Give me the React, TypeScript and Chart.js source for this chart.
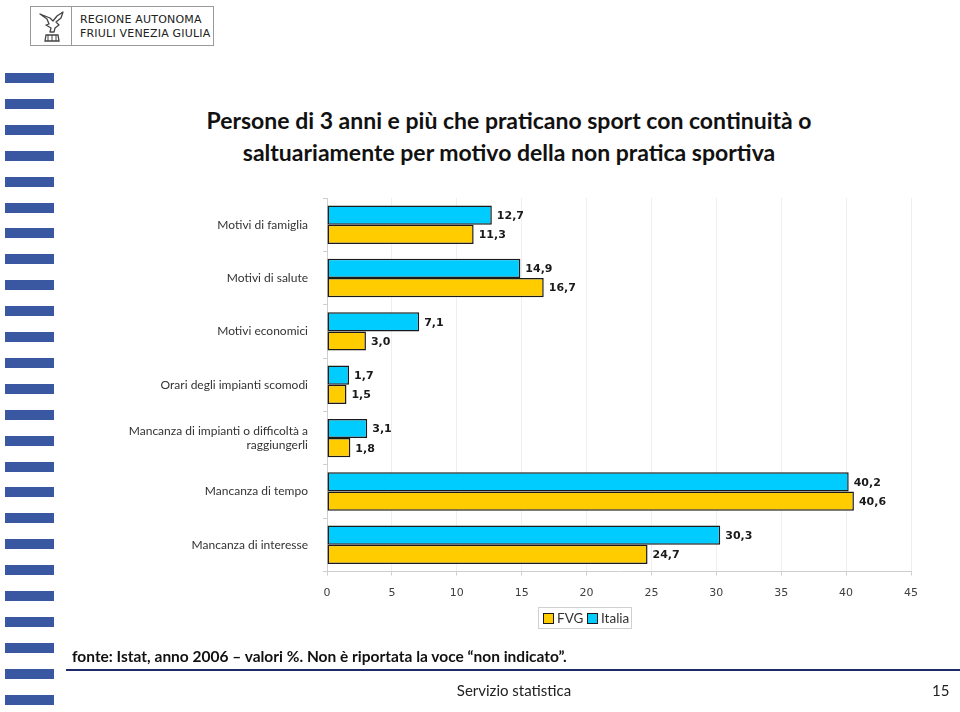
import React, { useEffect, useRef } from "react";
import { Chart, registerables } from "chart.js";

Chart.register(...registerables);

const categories: (string | string[])[] = [
  "Motivi di famiglia",
  "Motivi di salute",
  "Motivi economici",
  "Orari degli impianti scomodi",
  ["Mancanza di impianti o difficoltà a", "raggiungerli"],
  "Mancanza di tempo",
  "Mancanza di interesse",
];
const italia = [12.7, 14.9, 7.1, 1.7, 3.1, 40.2, 30.3];
const fvg = [11.3, 16.7, 3.0, 1.5, 1.8, 40.6, 24.7];
const xTicks = [0, 5, 10, 15, 20, 25, 30, 35, 40, 45];

const ITALIA_COLOR = "#00CCFF";
const FVG_COLOR = "#FFCC00";

const valueLabels = {
  id: "valueLabels",
  afterDatasetsDraw(chart: any) {
    const ctx = chart.ctx;
    ctx.save();
    ctx.font = "bold 11px 'DejaVu Sans'";
    ctx.fillStyle = "#1a1a1a";
    ctx.textAlign = "left";
    ctx.textBaseline = "middle";
    chart.data.datasets.forEach((ds: any, di: number) => {
      const meta = chart.getDatasetMeta(di);
      meta.data.forEach((el: any, i: number) => {
        const v = ds.data[i] as number;
        ctx.fillText(v.toFixed(1).replace(".", ","), el.x + 5, el.y + 1);
      });
    });
    ctx.restore();
  },
};

function Eagle() {
  return (
    <svg width="30" height="34" viewBox="0 0 30 34" style={{ position: "absolute", left: 6, top: 3 }}>
      <path
        d="M3 4 L10 9 L12 14 L9 15 L14 18 L13 22 L17 22 L18 18 L22 15 L19 12 L24 8 L26 2 L20 6 L16 11 L13 8 Z"
        fill="#fff"
        stroke="#444"
        strokeWidth="1.3"
        strokeLinejoin="round"
      />
      <path d="M9 25 L21 25 L22 31 L8 31 Z" fill="#fff" stroke="#444" strokeWidth="1.3" />
      <path d="M11 25 L11 31 M15 25 L15 31 M19 25 L19 31" stroke="#444" strokeWidth="1" />
    </svg>
  );
}

export default function App() {
  const canvasRef = useRef<HTMLCanvasElement | null>(null);

  useEffect(() => {
    document.body.style.margin = "0";
    const canvas = canvasRef.current;
    if (!canvas) return;
    const chart = new Chart(canvas, {
      type: "bar",
      data: {
        labels: categories,
        datasets: [
          {
            label: "Italia",
            data: italia,
            backgroundColor: ITALIA_COLOR,
            borderColor: "#1a1a1a",
            borderWidth: 1.5,
            borderSkipped: false,
            categoryPercentage: 0.72,
            barPercentage: 1,
          },
          {
            label: "FVG",
            data: fvg,
            backgroundColor: FVG_COLOR,
            borderColor: "#1a1a1a",
            borderWidth: 1.5,
            borderSkipped: false,
            categoryPercentage: 0.72,
            barPercentage: 1,
          },
        ],
      },
      options: {
        indexAxis: "y",
        responsive: false,
        animation: false,
        maintainAspectRatio: false,
        layout: { padding: { top: 198, right: 49, bottom: 0, left: 0 } },
        plugins: {
          legend: { display: false },
          tooltip: { enabled: false },
          title: { display: false },
        },
        scales: {
          x: {
            min: 0,
            max: 45,
            afterFit: (s: any) => {
              s.height = 140.5;
            },
            afterBuildTicks: (s: any) => {
              s.ticks = xTicks.map((v) => ({ value: v }));
            },
            grid: {
              color: "#efefef",
              tickColor: "#cfcfcf",
              tickLength: 4,
              drawOnChartArea: true,
            },
            border: { color: "#cfcfcf", width: 1 },
            ticks: {
              padding: 11,
              color: "#404040",
              font: { family: "'DejaVu Sans'", size: 11 },
            },
          },
          y: {
            afterFit: (s: any) => {
              s.width = 327;
            },
            grid: {
              display: true,
              drawOnChartArea: false,
              tickColor: "#cfcfcf",
              tickLength: 4,
            },
            border: { color: "#cfcfcf", width: 1 },
            ticks: {
              padding: 15,
              color: "#333333",
              font: { family: "Lato", size: 12 },
            },
          },
        },
      },
      plugins: [valueLabels],
    });
    return () => chart.destroy();
  }, []);

  const stripes = Array.from({ length: 25 }, (_, i) => i);

  return (
    <div style={{ position: "relative", width: 960, height: 712, overflow: "hidden", background: "#fff", fontFamily: "Lato" }}>
      {/* left decoration */}
      {stripes.map((i) => (
        <div
          key={i}
          style={{
            position: "absolute",
            left: 5,
            top: 73 + i * 25.9,
            width: 49,
            height: 10,
            background: "#3a58a2",
          }}
        />
      ))}
      {/* logo */}
      <div
        style={{
          position: "absolute",
          left: 30,
          top: 6,
          width: 184,
          height: 40,
          border: "1px solid #9a9a9a",
          boxSizing: "border-box",
        }}
      >
        <Eagle />
        <div style={{ position: "absolute", left: 40, top: 0, width: 1, height: 38, background: "#9a9a9a" }} />
        <div
          style={{
            position: "absolute",
            left: 49,
            top: 6,
            fontFamily: "'DejaVu Sans'",
            fontSize: 11,
            lineHeight: "14px",
            color: "#222",
            letterSpacing: 0.2,
            whiteSpace: "nowrap",
          }}
        >
          REGIONE AUTONOMA
          <br />
          FRIULI VENEZIA GIULIA
        </div>
      </div>
      {/* title */}
      <div
        style={{
          position: "absolute",
          left: 100,
          width: 818,
          top: 104,
          textAlign: "center",
          fontFamily: "Lato",
          fontWeight: 700,
          fontSize: 23,
          lineHeight: "32px",
          color: "#111",
        }}
      >
        Persone di 3 anni e più che praticano sport con continuità o
        <br />
        saltuariamente per motivo della non pratica sportiva
      </div>
      <canvas
        ref={canvasRef}
        width={960}
        height={712}
        style={{ position: "absolute", left: 0, top: 0, width: 960, height: 712 }}
      />
      {/* legend */}
      <div
        style={{
          position: "absolute",
          left: 538,
          top: 607,
          width: 94,
          height: 22,
          border: "1px solid #d0d0d0",
          boxSizing: "border-box",
          fontFamily: "Lato",
          fontSize: 13.5,
          color: "#333",
        }}
      >
        <div style={{ position: "absolute", left: 4, top: 5, width: 9, height: 9, background: FVG_COLOR, border: "1.5px solid #1a1a1a" }} />
        <div style={{ position: "absolute", left: 18, top: 1, lineHeight: "18px" }}>FVG</div>
        <div style={{ position: "absolute", left: 48, top: 5, width: 9, height: 9, background: ITALIA_COLOR, border: "1.5px solid #1a1a1a" }} />
        <div style={{ position: "absolute", left: 62, top: 1, lineHeight: "18px" }}>Italia</div>
      </div>
      {/* footnote */}
      <div
        style={{
          position: "absolute",
          left: 72,
          top: 647,
          fontFamily: "Lato",
          fontWeight: 700,
          fontSize: 15.5,
          color: "#111",
          whiteSpace: "nowrap",
        }}
      >
        fonte: Istat, anno 2006 – valori %. Non è riportata la voce “non indicato”.
      </div>
      <div style={{ position: "absolute", left: 66, top: 669, width: 894, height: 2, background: "#1f2a6b" }} />
      <div
        style={{
          position: "absolute",
          left: 414,
          width: 200,
          top: 681,
          textAlign: "center",
          fontFamily: "Lato",
          fontSize: 15,
          color: "#222",
        }}
      >
        Servizio statistica
      </div>
      <div style={{ position: "absolute", left: 932, top: 681, fontFamily: "Lato", fontSize: 15, color: "#222" }}>15</div>
    </div>
  );
}
